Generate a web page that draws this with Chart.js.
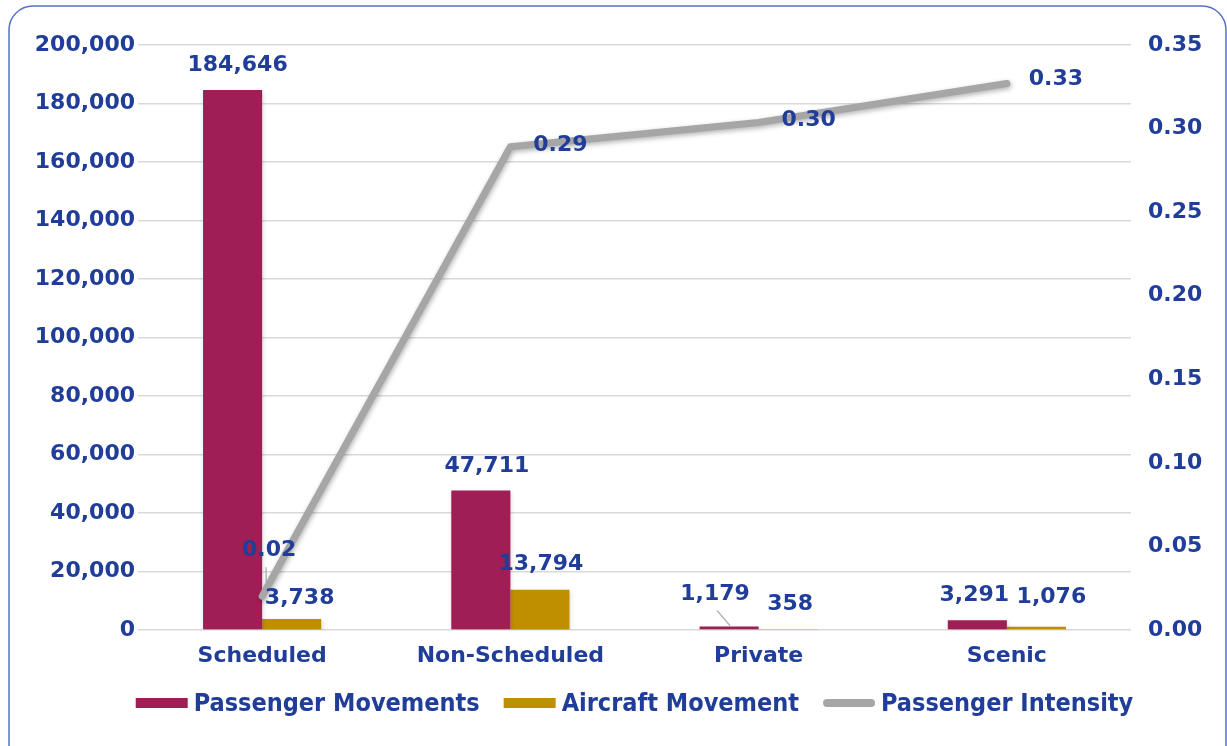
<!DOCTYPE html>
<html>
<head>
<meta charset="utf-8">
<script src="https://cdn.jsdelivr.net/npm/chart.js@4"></script>
<style>
  html, body { margin: 0; padding: 0; background: #fff; }
  #wrap { width: 1227px; height: 746px; position: relative; }
</style>
</head>
<body>
<div id="wrap"><canvas id="flightChart"></canvas></div>
<script>
// data
const categories = ["Scheduled", "Non-Scheduled", "Private", "Scenic"];
const passengerMovements = [184646, 47711, 1179, 3291];
const aircraftMovement = [3738, 13794, 358, 1076];
const passengerIntensity = [0.0202, 0.2891, 0.3036, 0.3270];
const leftTicks = { min: 0, max: 200000, step: 20000 };
const rightTicks = { min: 0, max: 0.35, step: 0.05 };

const BLUE = "#1F3D99";
const CRIMSON = "#A01E56";
const GOLD = "#BF8F00";
const GREY = "#A6A6A6";
const FONT = "'DejaVu Sans', sans-serif";

// label nudges per point [dx, dy, leader]
const pmNudge = [[5, -25], [6, -24], [-14, -32, true], [-3, -25]];
const amNudge = [[8, -21], [1, -25], [2, -25], [15, -30]];
const piNudge = [[7, -46, true], [50, -2], [50, -2], [49, -4]];

const fmt = n => n.toLocaleString("en-US");

const frame = {
  id: "frame",
  beforeDraw(chart) {
    const ctx = chart.ctx;
    ctx.save();
    ctx.fillStyle = "#fff";
    ctx.fillRect(0, 0, chart.width, chart.height);
    ctx.strokeStyle = "#5572C8";
    ctx.lineWidth = 1.5;
    ctx.beginPath();
    ctx.roundRect(9, 6, 1217, 780, 24);
    ctx.stroke();
    ctx.restore();
  }
};

const shadows = {
  id: "shadows",
  beforeDatasetDraw(chart, args) {
    const ctx = chart.ctx;
    ctx.save();
    const isLine = args.meta.type === "line";
    ctx.shadowColor = isLine ? "rgba(0,0,0,0.30)" : "rgba(0,0,0,0.18)";
    ctx.shadowBlur = isLine ? 5 : 4;
    ctx.shadowOffsetX = 1;
    ctx.shadowOffsetY = 2;
  },
  afterDatasetDraw(chart) {
    chart.ctx.restore();
  }
};

function drawLabels(ctx, meta, values, nudge, text) {
  meta.data.forEach((el, i) => {
    const nd = nudge[i];
    const x = el.x + nd[0];
    const y = el.y + nd[1];
    ctx.fillText(text(values[i]), x, y);
    if (nd[2]) {
      ctx.save();
      ctx.strokeStyle = "#A6A6A6";
      ctx.lineWidth = 1.2;
      ctx.beginPath();
      if (nd[0] < 0) {
        ctx.moveTo(x + 2, y + 16);
        ctx.lineTo(el.x + 1, el.y - 1);
      } else {
        ctx.moveTo(x - 3, y + 17);
        ctx.lineTo(el.x + 4, el.y - 14);
      }
      ctx.stroke();
      ctx.restore();
    }
  });
}

const valueLabels = {
  id: "valueLabels",
  afterDatasetsDraw(chart) {
    const ctx = chart.ctx;
    ctx.save();
    ctx.font = "bold 22px " + FONT;
    ctx.fillStyle = BLUE;
    ctx.textAlign = "center";
    ctx.textBaseline = "middle";
    drawLabels(ctx, chart.getDatasetMeta(0), passengerMovements, pmNudge, fmt);
    drawLabels(ctx, chart.getDatasetMeta(1), aircraftMovement, amNudge, fmt);
    drawLabels(ctx, chart.getDatasetMeta(2), passengerIntensity, piNudge, v => v.toFixed(2));
    ctx.restore();
  }
};

const bottomLegend = {
  id: "bottomLegend",
  afterDraw(chart) {
    const ctx = chart.ctx;
    const items = chart.data.datasets.map(d => ({ label: d.label, color: d.legendColor, line: d.type === "line" }));
    ctx.save();
    ctx.font = "bold 25px 'DejaVu Sans Condensed', " + FONT;
    ctx.textBaseline = "middle";
    const sw = 52, gap = 6, itemGap = 24;
    let total = 0;
    items.forEach((it, i) => {
      it.w = ctx.measureText(it.label).width;
      total += sw + gap + it.w + (i ? itemGap : 0);
    });
    let x = (chart.chartArea.left + chart.chartArea.right) / 2 - total / 2;
    const y = 703;
    items.forEach((it, i) => {
      if (i) x += itemGap;
      if (it.line) {
        ctx.strokeStyle = it.color;
        ctx.lineWidth = 8;
        ctx.lineCap = "round";
        ctx.beginPath();
        ctx.moveTo(x + 4, y);
        ctx.lineTo(x + sw - 4, y);
        ctx.stroke();
      } else {
        ctx.fillStyle = it.color;
        ctx.fillRect(x, y - 5, sw, 10);
      }
      x += sw + gap;
      ctx.fillStyle = BLUE;
      ctx.fillText(it.label, x, y + 1);
      x += it.w;
    });
    ctx.restore();
  }
};

new Chart(document.getElementById("flightChart"), {
  data: {
    labels: categories,
    datasets: [
      {
        type: "bar",
        label: "Passenger Movements",
        data: passengerMovements,
        backgroundColor: CRIMSON,
        legendColor: CRIMSON,
        yAxisID: "y",
        order: 1,
        barPercentage: 1,
        categoryPercentage: 0.476
      },
      {
        type: "bar",
        label: "Aircraft Movement",
        data: aircraftMovement,
        backgroundColor: GOLD,
        legendColor: GOLD,
        yAxisID: "y",
        order: 1,
        barPercentage: 1,
        categoryPercentage: 0.476
      },
      {
        type: "line",
        label: "Passenger Intensity",
        data: passengerIntensity,
        borderColor: GREY,
        legendColor: GREY,
        borderWidth: 7,
        borderCapStyle: "round",
        borderJoinStyle: "round",
        pointRadius: 0,
        tension: 0,
        clip: false,
        yAxisID: "y1",
        order: 0
      }
    ]
  },
  options: {
    responsive: true,
    maintainAspectRatio: false,
    animation: false,
    layout: { padding: { top: 45, left: 0, right: 0, bottom: 66 } },
    plugins: {
      legend: { display: false },
      tooltip: { enabled: false }
    },
    scales: {
      x: {
        grid: { display: false, drawTicks: false },
        border: { display: false },
        ticks: { color: BLUE, font: { family: FONT, size: 22, weight: "bold" }, padding: 13 },
        afterFit: s => { s.height = 50; }
      },
      y: {
        position: "left",
        min: leftTicks.min,
        max: leftTicks.max,
        grid: { color: "#D9D9D9", lineWidth: 1.5, drawTicks: false },
        border: { display: false },
        ticks: {
          stepSize: leftTicks.step,
          color: BLUE,
          font: { family: FONT, size: 22, weight: "bold" },
          padding: 3,
          callback: v => fmt(v)
        },
        afterFit: s => { s.width = 138; }
      },
      y1: {
        position: "right",
        min: rightTicks.min,
        max: rightTicks.max,
        grid: { drawOnChartArea: false, drawTicks: false },
        border: { display: false },
        ticks: {
          stepSize: rightTicks.step,
          color: BLUE,
          font: { family: FONT, size: 22, weight: "bold" },
          padding: 17,
          callback: v => v.toFixed(2)
        },
        afterFit: s => { s.width = 96; }
      }
    }
  },
  plugins: [frame, shadows, valueLabels, bottomLegend]
});
</script>
</body>
</html>
